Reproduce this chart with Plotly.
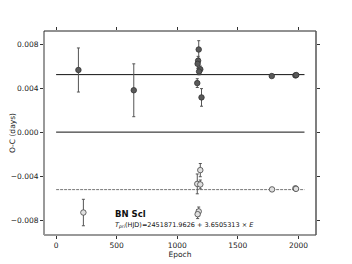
import plotly.graph_objects as go

# Primary minima (filled)
pri_epoch = [184, 641, 1177, 1172, 1168, 1190, 1180, 1165, 1200, 1780, 1975, 1982]
pri_oc = [0.00564, 0.0038, 0.0075, 0.00648, 0.0062, 0.0057, 0.0055, 0.00445, 0.00315, 0.00509, 0.00515, 0.00518]
pri_err = [0.0020, 0.0024, 0.0008, 0.0004, 0.0004, 0.0003, 0.0003, 0.0004, 0.0008, 0.0001, 0.0001, 0.0001]

# Secondary minima (open)
sec_epoch = [225, 1190, 1165, 1190, 1177, 1168, 1782, 1975, 1980]
sec_oc = [-0.0073, -0.00345, -0.0047, -0.00475, -0.0072, -0.00745, -0.0052, -0.0051, -0.00515]
sec_err = [0.0012, 0.0006, 0.0009, 0.0004, 0.0004, 0.0004, 0.0001, 0.0001, 0.0001]

# Reference levels
level_pri = 0.00522
level_zero = 0.0
level_sec = -0.00522
line_epochs = [0, 2050]

x_ticks = [0, 500, 1000, 1500, 2000]
y_ticks = [-0.008, -0.004, 0.0, 0.004, 0.008]
y_ticklabels = ["\u22120.008", "\u22120.004", "0.000", "0.004", "0.008"]

fig = go.Figure()

fig.add_trace(go.Scatter(x=line_epochs, y=[level_pri] * 2, mode="lines",
                         line=dict(color="#111", width=1), hoverinfo="skip"))
fig.add_trace(go.Scatter(x=line_epochs, y=[level_zero] * 2, mode="lines",
                         line=dict(color="#111", width=1), hoverinfo="skip"))
fig.add_trace(go.Scatter(x=line_epochs, y=[level_sec] * 2, mode="lines",
                         line=dict(color="#777", width=1, dash="3px,1px"), hoverinfo="skip"))

fig.add_trace(go.Scatter(
    x=pri_epoch, y=pri_oc, mode="markers",
    error_y=dict(type="data", array=pri_err, color="#555", thickness=1, width=1.5),
    marker=dict(size=5.5, color="#5a5a5a", line=dict(color="#333", width=0.8)),
))
fig.add_trace(go.Scatter(
    x=sec_epoch, y=sec_oc, mode="markers",
    error_y=dict(type="data", array=sec_err, color="#555", thickness=1, width=1.5),
    marker=dict(size=5.5, color="#e0e0e0", line=dict(color="#444", width=0.8)),
))

fig.add_annotation(x=0.255, y=0.105, xref="paper", yref="paper", xanchor="left", yanchor="middle",
                   text="<b>BN Scl</b>", showarrow=False,
                   font=dict(family="DejaVu Sans", size=8.5, color="#111"))
fig.add_annotation(x=0.255, y=0.05, xref="paper", yref="paper", xanchor="left", yanchor="middle",
                   text="<i>T</i><sub><i>pri</i></sub>(HJD)=2451871.9626 + 3.6505313 \u00d7 <i>E</i>",
                   showarrow=False, font=dict(family="DejaVu Sans", size=6.5, color="#111"))

# spines
fig.add_shape(type="line", xref="paper", yref="paper", x0=0, x1=0, y0=0, y1=1,
              line=dict(color="#999", width=2))
fig.add_shape(type="line", xref="paper", yref="paper", x0=0, x1=1, y0=0, y1=0,
              line=dict(color="#999", width=2))
fig.add_shape(type="line", xref="paper", yref="paper", x0=0, x1=1, y0=1, y1=1,
              line=dict(color="#222", width=1))
fig.add_shape(type="line", xref="paper", yref="paper", x0=1, x1=1, y0=0, y1=1,
              line=dict(color="#555", width=1.5))

fig.update_layout(
    width=344, height=256,
    margin=dict(l=36, r=36, t=23, b=29, autoexpand=False),
    paper_bgcolor="white", plot_bgcolor="white",
    showlegend=False,
    font=dict(family="DejaVu Sans", size=7.5, color="#222"),
    xaxis=dict(range=[-100, 2145], tickvals=x_ticks, ticks="outside", ticklen=3,
               tickcolor="#333", mirror="ticks", showgrid=False, zeroline=False,
               showline=False, automargin=False,
               title=dict(text="Epoch", standoff=1, font=dict(size=7.5))),
    yaxis=dict(range=[-0.00934, 0.00918], tickvals=y_ticks, ticktext=y_ticklabels,
               ticks="outside", ticklen=3, tickcolor="#333", mirror="ticks",
               showgrid=False, zeroline=False, showline=False, automargin=False,
               title=dict(text="O-C (days)", standoff=9, font=dict(size=7.5))),
)

fig.write_html("out.html")
